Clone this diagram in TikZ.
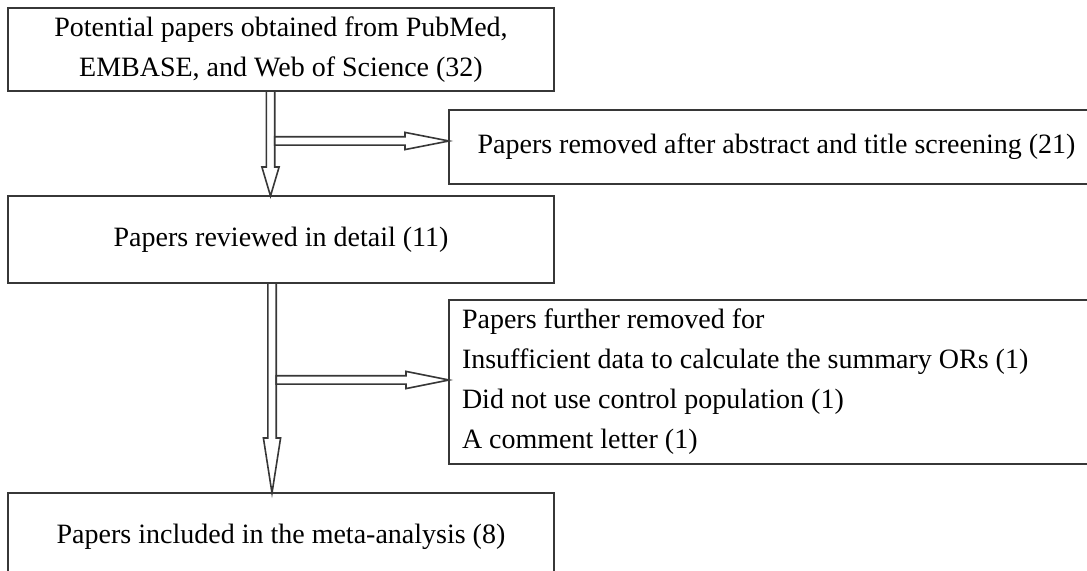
\documentclass[tikz,border=0pt]{standalone}
\usepackage{fontspec}
\setmainfont{Liberation Serif}
\usetikzlibrary{calc, positioning}
\definecolor{boxLine}{RGB}{55, 55, 55}

% hollow block arrow: from, to, head length
\def\shaftw{2.1pt}
\def\headw{4.3pt}
\newcommand{\hollowarrow}[3]{%
  \coordinate (hb) at ($(#2)!#3!(#1)$);
  \draw[arrowLine]
    ($(#1)!\shaftw!90:(#2)$) -- ($(hb)!\shaftw!90:(#2)$)
    -- ($(hb)!\headw!90:(#2)$) -- (#2)
    -- ($(hb)!\headw!-90:(#2)$) -- ($(hb)!\shaftw!-90:(#2)$)
    -- ($(#1)!\shaftw!-90:(#2)$) -- cycle;
}

\begin{document}
\begin{tikzpicture}[x=0.5pt, y=-0.5pt,
  box/.style={draw=boxLine, line width=0.9pt, inner sep=0pt, outer sep=0pt,
    align=center, font=\fontsize{14}{20}\selectfont},
  arrowLine/.style={draw=boxLine, line width=0.8pt, fill=white}]
  \useasboundingbox (0,0) rectangle (1087,571);

  % boxes
  \node[box, minimum width=273pt, minimum height=41.5pt] (search) at (281,49.5)
    {Potential papers obtained from PubMed,\\EMBASE, and Web of Science (32)};
  \node[box, minimum width=327.5pt, minimum height=37pt] (screen) at (776.5,147)
    {Papers removed after abstract and title screening (21)};
  \node[box, minimum width=273pt, minimum height=43.5pt] (review) at (281,239.5)
    {Papers reviewed in detail (11)};
  \node[box, anchor=north west, text width=314.5pt, minimum height=82pt,
    align=flush left, inner xsep=6.5pt] (further) at (449,300)
    {Papers further removed for\\
     Insufficient data to calculate the summary ORs (1)\\
     Did not use control population (1)\\
     A comment letter (1)};
  \node[box, minimum width=273pt, minimum height=44pt] (meta) at (281,537)
    {Papers included in the meta-analysis (8)};

  % arrows
  \coordinate (v1s) at ([xshift=-5.25pt]search.south);
  \coordinate (v1e) at ([xshift=-5.25pt]review.north);
  \coordinate (h1e) at ([yshift=3pt]screen.west);
  \coordinate (h1s) at ($(h1e -| v1s) + (\shaftw,0)$);
  \hollowarrow{v1s}{v1e}{14.5pt}
  \hollowarrow{h1s}{h1e}{22pt}

  \coordinate (v2s) at ([xshift=-4.5pt]review.south);
  \coordinate (v2e) at ([xshift=-4.5pt]meta.north);
  \coordinate (h2e) at ([yshift=1pt]further.west);
  \coordinate (h2s) at ($(h2e -| v2s) + (\shaftw,0)$);
  \hollowarrow{v2s}{v2e}{27.5pt}
  \hollowarrow{h2s}{h2e}{21.5pt}
\end{tikzpicture}
\end{document}
